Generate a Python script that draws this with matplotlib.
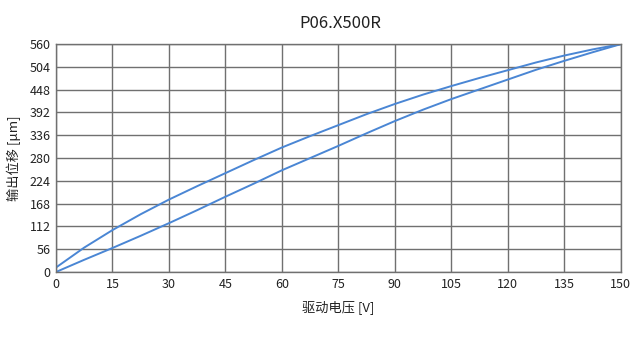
import matplotlib
matplotlib.use("Agg")
import matplotlib.pyplot as plt

plt.rcParams['font.family'] = ['Noto Sans CJK SC', 'DejaVu Sans']

# drive voltage [V] and displacement [um]
voltage = [0, 7.5, 15, 22.5, 30, 37.5, 45, 52.5, 60, 67.5, 75,
           82.5, 90, 97.5, 105, 112.5, 120, 127.5, 135, 142.5, 150]
rising = [0, 30, 59, 89, 120, 152, 185, 217, 250, 280, 310,
          341, 371, 399, 425, 449, 473, 497, 519, 540, 560]
falling = [11, 60, 103, 142, 178, 211, 243, 275, 306, 334, 361,
           388, 413, 436, 457, 477, 496, 515, 532, 547, 560]

x_ticks = [0, 15, 30, 45, 60, 75, 90, 105, 120, 135, 150]
y_ticks = [0, 56, 112, 168, 224, 280, 336, 392, 448, 504, 560]

line_color = "#4a86d4"
grid_color = "#707070"

fig = plt.figure(figsize=(6.4, 3.56), dpi=100)
ax = fig.add_axes([0.0875, 0.236, 0.8825, 0.640])

ax.plot(voltage, rising, color=line_color, lw=1.4)
ax.plot(voltage, falling, color=line_color, lw=1.4)

ax.set_xlim(0, 150)
ax.set_ylim(0, 560)
ax.set_xticks(x_ticks)
ax.set_yticks(y_ticks)
ax.tick_params(length=0, labelsize=9, colors="#222222", pad=4)
ax.grid(True, color=grid_color, lw=1)
ax.set_axisbelow(True)
for s in ax.spines.values():
    s.set_color(grid_color)
    s.set_linewidth(1)

ax.set_xlabel("驱动电压 [V]", fontsize=9.5, color="#222222", labelpad=7)
ax.set_ylabel("输出位移 [μm]", fontsize=9.5, color="#222222", labelpad=6)
fig.text(0.532, 0.935, "P06.X500R", ha="center", va="center", fontsize=12, color="#222222")

fig.savefig("out.png", dpi=100)
